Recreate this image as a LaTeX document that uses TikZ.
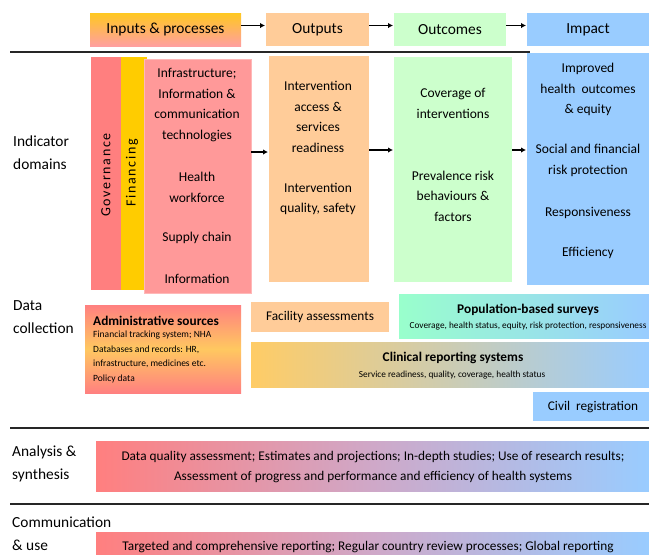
\documentclass[tikz,border=0pt]{standalone}
\usepackage{fontspec}
\setmainfont{Carlito}
\usetikzlibrary{arrows.meta}
\definecolor{govc}{HTML}{FF7F7F}
\definecolor{finc}{HTML}{FFCC00}
\definecolor{infc}{HTML}{FF9999}
\definecolor{infb}{HTML}{FFB8B8}
\definecolor{outc}{HTML}{FFCC99}
\definecolor{ocmc}{HTML}{CCFFCC}
\definecolor{impc}{HTML}{99CCFF}
\definecolor{mintc}{HTML}{99FFCC}
\definecolor{yelc}{HTML}{FFC820}
\definecolor{pinkc}{HTML}{FF9F9F}
\definecolor{redc}{HTML}{FF8080}
\definecolor{orac}{HTML}{FFC860}
\definecolor{clinc}{HTML}{FFCC66}
\definecolor{lavc}{HTML}{CFA8C8}
\definecolor{rulec}{HTML}{262626}
\newcommand\myhd{\fontsize{15.4}{18}\selectfont}
\newcommand\mybody{\fontsize{13.5}{20.5}\selectfont}
\newcommand\mylbl{\fontsize{15.4}{23}\selectfont}
\newcommand\mytitle{\fontsize{13.3}{16}\selectfont}
\newcommand\mysmall{\fontsize{9.5}{14.4}\selectfont}
\begin{document}
\begin{tikzpicture}[x=1pt,y=-1pt,
  box/.style={anchor=north west, inner sep=0pt, outer sep=0pt, draw=none},
  txt/.style={inner sep=0pt, align=center, text=black},
  lbl/.style={inner sep=0pt, align=left, anchor=west, font=\mylbl},
  arr/.style={draw=black, line width=1.6pt, -{Latex[length=5pt,width=5.5pt]}},
  rule/.style={draw=rulec, line width=1.5pt}]
\useasboundingbox (0,0) rectangle (649,555);

% rules
\coordinate (rl1) at (10,52);
\coordinate (rr1) at (530,52);
\coordinate (rl2) at (10,428);
\coordinate (rr2) at (649,428);
\coordinate (rl3) at (10,504);
\coordinate (rr3) at (649,504);
\draw[rule] (rl1) -- (rr1);
\draw[rule] (rl2) -- (rr2);
\draw[rule] (rl3) -- (rr3);

% header
\node[box, minimum width=151pt, minimum height=33pt, top color=yelc, bottom color=pinkc] (inputs) at (90,13) {};
\node[box, fill=outc, minimum width=103pt, minimum height=33pt] (outputs) at (266,13) {};
\node[box, fill=ocmc, minimum width=112pt, minimum height=33pt] (outcomes) at (394,13) {};
\node[box, fill=impc, minimum width=122pt, minimum height=33pt] (impact) at (527,13) {};
\node[txt, font=\myhd] (tinputs) at (inputs.center) {Inputs \& processes};
\node[txt, font=\myhd] (toutputs) at (outputs.center) {Outputs};
\node[txt, font=\myhd] (toutcomes) at (outcomes.center) {Outcomes};
\node[txt, font=\myhd] (timpact) at (impact.center) {Impact};
\draw[arr] ([yshift=4pt]inputs.east) -- ([yshift=4pt,xshift=-1pt]outputs.west);
\draw[arr] ([yshift=4pt]outputs.east) -- ([yshift=4pt,xshift=-1pt]outcomes.west);
\draw[arr] ([yshift=4pt]outcomes.east) -- ([yshift=4pt,xshift=-1pt]impact.west);

% indicator domains
\node[lbl] (lind) at (13,153) {Indicator\\domains};
\node[box, fill=govc, minimum width=30pt, minimum height=233pt] (gov) at (91,57) {};
\node[box, fill=finc, minimum width=26pt, minimum height=233pt] (fin) at (121,57) {};
\node[box, fill=infc, draw=infb, line width=0.8pt, minimum width=107pt, minimum height=234pt] (infra) at (144,59) {};
\node[txt, rotate=90, font=\fontsize{14}{16}\selectfont\addfontfeature{LetterSpace=12}] (tgov) at (106,175) {Governance};
\node[txt, rotate=90, font=\fontsize{14}{16}\selectfont\addfontfeature{LetterSpace=12}] (tfin) at (132,173) {Financing};
\node[txt, font=\mybody] (ti1) at (197,105) {Infrastructure;\\Information \&\\communication\\technologies};
\node[txt, font=\mybody] (ti2) at (197,187.5) {Health\\workforce};
\node[txt, font=\mybody] (ti3) at (197,238) {Supply chain};
\node[txt, font=\mybody] (ti4) at (197,279) {Information};

\node[box, fill=outc, minimum width=100pt, minimum height=226pt] (outb) at (269,56) {};
\node[txt, font=\mybody] (to1) at (318,117) {Intervention\\access \&\\services\\readiness};
\node[txt, font=\mybody] (to2) at (318,199) {Intervention\\quality, safety};

\node[box, fill=ocmc, minimum width=118pt, minimum height=225pt] (ocmb) at (394,57) {};
\node[txt, font=\mybody] (tc1) at (453,103.5) {Coverage of\\interventions};
\node[txt, font=\mybody] (tc2) at (453,196) {Prevalence risk\\behaviours \&\\factors};

\node[box, fill=impc, minimum width=122pt, minimum height=232pt] (impb) at (527,53) {};
\node[txt, font=\mybody] (tm1) at (588,89.5) {Improved\\health\ \ outcomes\\\& equity};
\node[txt, font=\mybody] (tm2) at (588,160.5) {Social and financial\\risk protection};
\node[txt, font=\mybody] (tm3) at (588,213) {Responsiveness};
\node[txt, font=\mybody] (tm4) at (588,253) {Efficiency};

\coordinate (arow) at (0,152);
\coordinate (brow) at (0,150);
\draw[arr] (infra.east |- arow) -- ([xshift=-1pt]outb.west |- arow);
\draw[arr] (outb.east |- brow) -- ([xshift=-1pt]ocmb.west |- brow);
\draw[arr] (ocmb.east |- brow) -- ([xshift=-1pt]impb.west |- brow);

% data collection
\node[lbl] (ldata) at (13,317.5) {Data\\collection};
\node[box, minimum width=156pt, minimum height=88pt, top color=redc, bottom color=redc, middle color=orac] (admin) at (85,305) {};
\node[anchor=west, inner sep=0pt, font=\mytitle\bfseries] (tadmin) at (93,321) {Administrative sources};
\node[anchor=north west, inner sep=0pt, align=left, font=\mysmall] (tadmin2) at (93,331) {Financial tracking system; NHA\\Databases and records: HR,\\infrastructure, medicines etc.\\Policy data};

\node[box, fill=outc, minimum width=138pt, minimum height=30pt] (facil) at (251,302) {};
\node[txt, font=\mytitle] (tfacil) at (facil.center) {Facility assessments};

\node[box, minimum width=250pt, minimum height=44pt, left color=mintc, right color=impc] (pop) at (399,294) {};
\node[txt, font=\mytitle\bfseries] (tpop) at (528,310) {Population-based surveys};
\node[txt, font=\fontsize{9.3}{11}\selectfont] (tpop2) at (528,326) {Coverage, health status, equity, risk protection, responsiveness};

\node[box, minimum width=398pt, minimum height=45pt, left color=clinc, right color=impc] (clin) at (251,342) {};
\node[txt, font=\mytitle\bfseries] (tclin) at (453,358) {Clinical reporting systems};
\node[txt, font=\fontsize{9.3}{11}\selectfont] (tclin2) at (452,375) {Service readiness, quality, coverage, health status};

\node[box, fill=impc, minimum width=116pt, minimum height=29pt] (civil) at (533,392) {};
\node[txt, font=\mytitle] (tcivil) at (593,407) {Civil\ \ registration};

% analysis
\node[lbl] (lana) at (12,463.5) {Analysis \&\\synthesis};
\node[box, minimum width=553pt, minimum height=50pt, left color=govc, right color=impc, middle color=lavc] (ana) at (96,441) {};
\node[txt, font=\fontsize{13.3}{19.5}\selectfont] (tana) at (373,467) {Data quality assessment; Estimates and projections; In-depth studies; Use of research results;\\Assessment of progress and performance and efficiency of health systems};

% communication
\node[lbl] (lcom) at (12,533.5) {Communication\\\& use};
\node[box, minimum width=553pt, minimum height=25pt, left color=govc, right color=impc, middle color=lavc] (com) at (96,532) {};
\node[txt, font=\fontsize{13.3}{16}\selectfont] (tcom) at (368,547) {Targeted and comprehensive reporting; Regular country review processes; Global reporting};
\end{tikzpicture}
\end{document}
